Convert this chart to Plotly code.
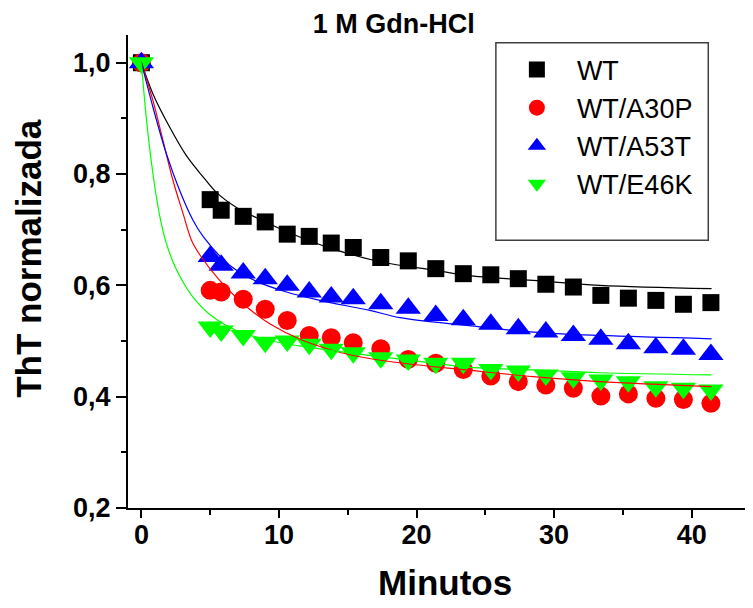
import plotly.graph_objects as go

# ---- data ----
time = [0, 5.0, 5.8, 7.4, 9.0, 10.6, 12.2, 13.8, 15.4, 17.4, 19.4, 21.4,
        23.4, 25.4, 27.4, 29.4, 31.4, 33.4, 35.4, 37.4, 39.4, 41.4]
wt = [1.0, 0.754, 0.735, 0.724, 0.714, 0.692, 0.688, 0.676, 0.668, 0.650, 0.644,
      0.630, 0.621, 0.619, 0.612, 0.602, 0.597, 0.582, 0.577, 0.573, 0.566, 0.569]
a30p = [1.0, 0.591, 0.588, 0.575, 0.557, 0.537, 0.510, 0.506, 0.497, 0.486, 0.467,
        0.460, 0.449, 0.437, 0.427, 0.421, 0.415, 0.401, 0.405, 0.397, 0.395, 0.388]
a53t = [1.0, 0.652, 0.636, 0.622, 0.612, 0.600, 0.588, 0.579, 0.576, 0.567, 0.559,
        0.546, 0.538, 0.530, 0.522, 0.516, 0.510, 0.503, 0.495, 0.488, 0.485, 0.476]
e46k = [1.0, 0.525, 0.518, 0.510, 0.498, 0.500, 0.494, 0.485, 0.479, 0.470, 0.466,
        0.460, 0.460, 0.449, 0.446, 0.439, 0.434, 0.430, 0.427, 0.418, 0.415, 0.412]

# fitted curves
fit_wt_t = [0, 0.84, 2.06, 3.27, 4.48, 5.45, 6.91, 9.02, 10.62, 13.84, 17.45, 21.4, 23.64, 28.48, 33.33, 41.45]
fit_wt_y = [1.0, 0.944, 0.884, 0.833, 0.795, 0.767, 0.740, 0.714, 0.696, 0.666, 0.642, 0.627, 0.618, 0.609, 0.600, 0.594]
fit_a30p_t = [0, 0.84, 1.57, 2.30, 3.03, 3.64, 4.24, 5.69, 7.39, 9.33, 11.75, 15.39, 19.03, 23.64, 28.48, 33.33, 41.45]
fit_a30p_y = [1.0, 0.932, 0.860, 0.788, 0.729, 0.681, 0.655, 0.609, 0.567, 0.531, 0.501, 0.474, 0.460, 0.448, 0.436, 0.427, 0.418]
fit_a53t_t = [0, 0.84, 1.82, 2.79, 3.75, 4.48, 6.42, 8.12, 10.55, 12.97, 16.6, 18.79, 23.64, 28.48, 33.33, 41.45]
fit_a53t_y = [1.0, 0.920, 0.836, 0.770, 0.717, 0.688, 0.636, 0.610, 0.588, 0.573, 0.555, 0.542, 0.528, 0.516, 0.510, 0.504]
fit_e46k_t = [0, 0.36, 0.84, 1.33, 1.82, 2.55, 3.75, 5.21, 6.91, 9.33, 12.97, 16.6, 21.4, 23.64, 28.48, 33.33, 41.45]
fit_e46k_y = [1.0, 0.900, 0.800, 0.725, 0.675, 0.628, 0.579, 0.543, 0.519, 0.501, 0.486, 0.474, 0.460, 0.453, 0.448, 0.443, 0.439]

series_names = ["WT", "WT/A30P", "WT/A53T", "WT/E46K"]
x_tickvals = [0, 10, 20, 30, 40]
x_ticktext = ["0", "10", "20", "30", "40"]
x_minor = [5, 15, 25, 35]
y_tickvals = [0.2, 0.4, 0.6, 0.8, 1.0]
y_ticktext = ["0,2", "0,4", "0,6", "0,8", "1,0"]
y_minor = [0.3, 0.5, 0.7, 0.9]

colors = ["#000000", "#FF0000", "#0000FF", "#00FF00"]
symbols = ["square", "circle", "triangle-up", "triangle-down"]
sizes = [17, 19, 22, 22]
values = [wt, a30p, a53t, e46k]
fits = [(fit_wt_t, fit_wt_y), (fit_a30p_t, fit_a30p_y),
        (fit_a53t_t, fit_a53t_y), (fit_e46k_t, fit_e46k_y)]

fig = go.Figure()
for name, vals, c, s, sz in zip(series_names, values, colors, symbols, sizes):
    fig.add_trace(go.Scatter(x=time, y=vals, mode="markers", name=name,
                             marker=dict(symbol=s, size=sz, color=c, line=dict(width=0))))
for (ft, fy), c in zip(fits, colors):
    fig.add_trace(go.Scatter(x=ft, y=fy, mode="lines", showlegend=False, hoverinfo="skip",
                             line=dict(color=c, width=1.2, shape="spline", smoothing=1.0)))

fam = "Liberation Sans, Arial, sans-serif"
OFF = 8  # page body margin
W, H = 753 - OFF, 608 - OFF
L, T, B = 128.3, 35, 507.7   # plot area in reference page coordinates
PW, PH = 753 - L, B - T

def px(xp):
    return (xp - L) / PW

def py(yp):
    return (B - yp) / PH

fig.update_layout(
    width=W, height=H,
    margin=dict(l=L - OFF, r=0, t=T - OFF, b=H - (B - OFF), pad=0),
    plot_bgcolor="white", paper_bgcolor="white",
    font=dict(family=fam, color="black"),
    title=dict(text="1 M Gdn-HCl", font=dict(size=27, family=fam, weight="bold"),
               x=px(394), xref="paper", xanchor="center",
               y=1 - (24 - OFF) / H, yref="container", yanchor="middle"),
    showlegend=True,
    legend=dict(x=px(497), y=py(45.5), xanchor="left", yanchor="top",
                bgcolor="rgba(0,0,0,0)", borderwidth=0,
                font=dict(size=27, family=fam, color="black"),
                itemwidth=70, tracegroupgap=0),
    xaxis=dict(range=[-0.975, 44.46], showgrid=False, zeroline=False,
               showline=True, linecolor="black", linewidth=2,
               tickmode="array", tickvals=x_tickvals, ticktext=x_ticktext,
               ticks="outside", ticklen=8, tickwidth=2, tickcolor="black",
               ticklabelstandoff=-6,
               tickfont=dict(size=27, family=fam, weight="bold"),
               minor=dict(tickmode="array", tickvals=x_minor, ticks="outside",
                          ticklen=5, tickwidth=2, tickcolor="black", showgrid=False)),
    yaxis=dict(range=[0.2, 1.0498], showgrid=False, zeroline=False,
               showline=True, linecolor="black", linewidth=2,
               tickmode="array", tickvals=y_tickvals, ticktext=y_ticktext,
               ticks="outside", ticklen=10, tickwidth=2, tickcolor="black",
               tickfont=dict(size=27, family=fam, weight="bold"),
               minor=dict(tickmode="array", tickvals=y_minor, ticks="outside",
                          ticklen=5, tickwidth=2, tickcolor="black", showgrid=False)),
    shapes=[dict(type="rect", xref="paper", yref="paper",
                 x0=px(496), x1=px(708.3), y0=py(240), y1=py(42.7),
                 line=dict(color="#404040", width=1.5), fillcolor="rgba(0,0,0,0)")],
    annotations=[
        dict(text="ThT normalizada", textangle=-90, xref="paper", yref="paper",
             x=px(28), y=py(258), xanchor="center", yanchor="middle", showarrow=False,
             font=dict(size=35, family=fam, color="black", weight="bold")),
        dict(text="Minutos", xref="paper", yref="paper",
             x=px(445), y=py(582), xanchor="center", yanchor="middle", showarrow=False,
             font=dict(size=35, family=fam, color="black", weight="bold")),
    ],
)

fig.write_html("out.html")
